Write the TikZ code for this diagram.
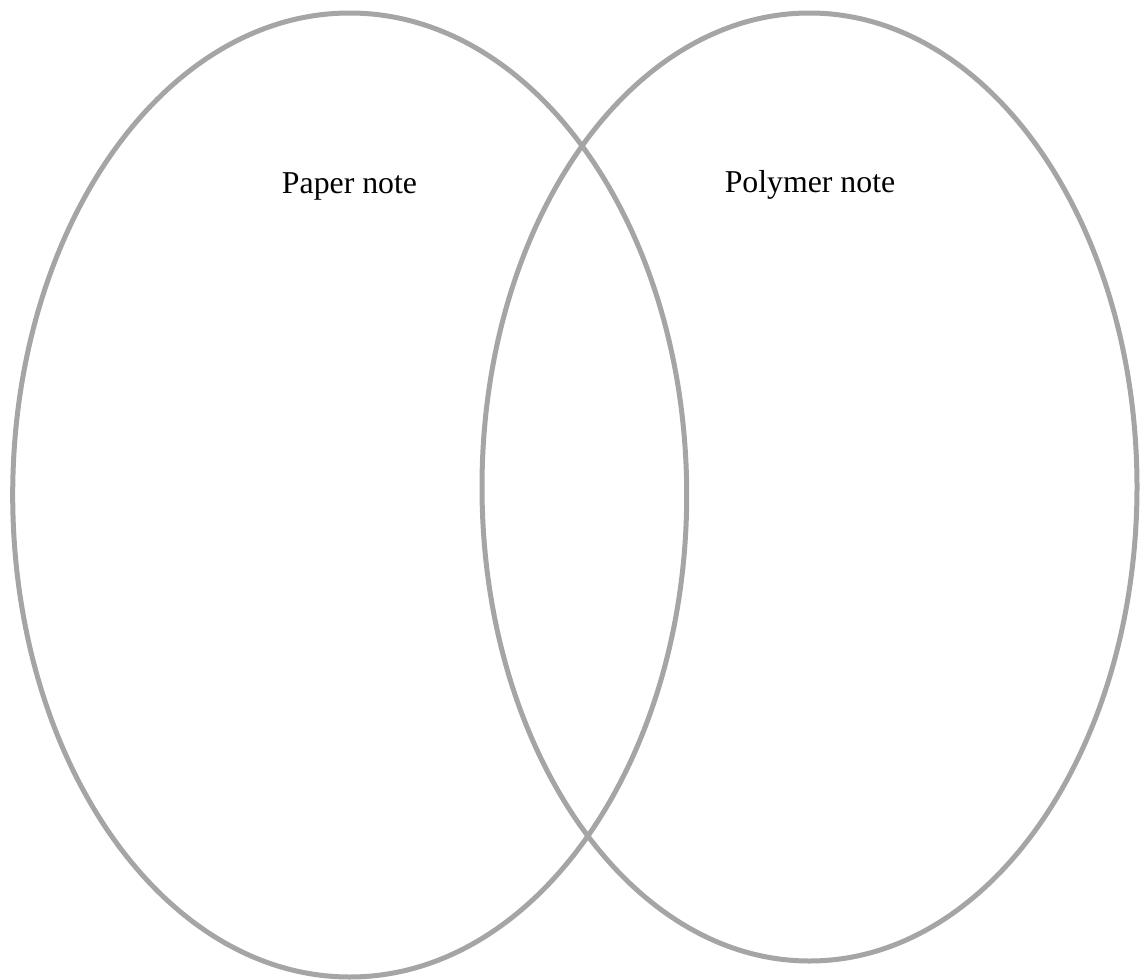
\documentclass[tikz,border=0pt]{standalone}
\usepackage{fontspec}
\setmainfont{Liberation Serif}
\begin{document}
\begin{tikzpicture}[x=1pt,y=-1pt,
  ring/.style={draw={rgb,255:red,165;green,165;blue,165},line width=5pt},
  lbl/.style={font=\fontsize{31.8}{36}\selectfont,anchor=base,inner sep=0pt}]
\useasboundingbox (0,0) rectangle (1141,980);
\draw[ring] (349.7,495) ellipse [x radius=337, y radius=482];
\draw[ring] (809.5,487) ellipse [x radius=327.5, y radius=474];
\node[lbl] (paper) at (349.5,193) {Paper note};
\node[lbl] (polymer) at (810,192) {Polymer note};
\end{tikzpicture}
\end{document}
